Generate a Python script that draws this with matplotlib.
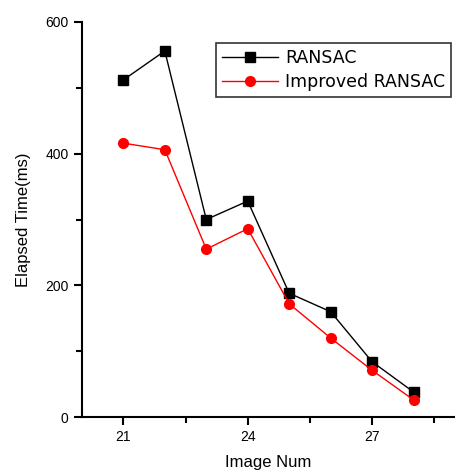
import matplotlib.pyplot as plt

image_num = [21, 22, 23, 24, 25, 26, 27, 28]
ransac = [512, 556, 300, 328, 188, 160, 84, 38]
improved = [416, 406, 255, 286, 172, 120, 71, 26]

plt.rcParams['font.family'] = ['Liberation Sans', 'DejaVu Sans']

fig = plt.figure(figsize=(4.55, 4.71), dpi=100)
ax = fig.add_axes([0.180, 0.1146, 0.82, 0.8387])

ax.plot(image_num, ransac, color='black', marker='s', markersize=7, lw=1, label='RANSAC')
ax.plot(image_num, improved, color='red', marker='o', markersize=7, lw=1, label='Improved RANSAC')

ax.set_xlim(20, 29)
ax.set_ylim(0, 600)
ax.set_xticks([21, 24, 27])
ax.set_xticks([22.5, 25.5, 28.5], minor=True)
ax.set_yticks([0, 200, 400, 600])
ax.set_yticks([100, 300, 500], minor=True)
ax.spines['top'].set_visible(False)
ax.spines['right'].set_visible(False)
ax.spines['left'].set_linewidth(1.5)
ax.spines['bottom'].set_linewidth(1.5)
ax.tick_params(which='major', direction='out', length=6, width=1.5, labelsize=10)
ax.tick_params(which='minor', direction='out', length=4, width=1.5)

ax.set_xlabel('Image Num', fontsize=12, labelpad=8)
ax.set_ylabel('Elapsed Time(ms)', fontsize=12, labelpad=10)

leg = ax.legend(loc='upper left', bbox_to_anchor=(0.36, 0.948), borderaxespad=0,
                prop={'family': 'DejaVu Sans', 'size': 12.5},
                frameon=True, fancybox=False, edgecolor='black', borderpad=0.35,
                handlelength=3.2, labelspacing=0.35, handletextpad=0.4)
leg.get_frame().set_linewidth(1.2)

fig.savefig('out.png', dpi=100)
